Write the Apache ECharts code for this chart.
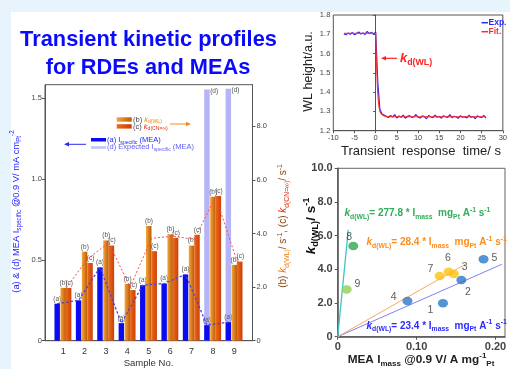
<!DOCTYPE html>
<html>
<head>
<meta charset="utf-8">
<script src="https://cdn.jsdelivr.net/npm/echarts@6/dist/echarts.min.js"></script>
<style>
  html, body { margin: 0; padding: 0; background: #e8f4fc; }
  #chart { width: 510px; height: 369px; }
</style>
</head>
<body>
<div id="chart"></div>
<script>
// ---------- bar chart: samples 1-9 ----------
const samples = [1, 2, 3, 4, 5, 6, 7, 8, 9];
// (a) MEA specific activity @0.9 V, mA cm-2 (left axis)
const iSpecific = [0.229, 0.250, 0.454, 0.109, 0.344, 0.354, 0.410, 0.096, 0.115];
// (d) expected specific activity (samples 8 and 9 only)
const iExpected = [null, null, null, null, null, null, null, 1.555, 1.560];
// (b) kd(WL) and (c) kd(CN=inf), s-1 (right axis)
const kdWL = [1.97, 3.32, 3.74, 2.12, 4.28, 3.97, 3.55, 5.37, 2.83];
const kdCN = [1.97, 2.90, 3.55, 1.89, 3.34, 3.84, 3.95, 5.40, 2.95];
// red dashed guide through the k values
const kdTrend = [1.95, 3.05, 3.65, 2.00, 3.82, 3.90, 3.78, 5.38, 2.95];

const leftTicks = [0, 0.5, 1.0, 1.5];
const rightTicks = [0, 2, 4, 6, 8];

// ---------- transient response (WL height vs time) ----------
const tExp = [-7.5,-7,-6.5,-6,-5.5,-5,-4.5,-4,-3.5,-3,-2.5,-2,-1.5,-1,-0.5,0,0.5,1,1.5,2,
  2.5,3,3.5,4,4.5,5,5.5,6,6.5,7,7.5,8,8.5,9,9.5,10,10.5,11,11.5,12,12.5,13,13.5,14,14.5,15,
  15.5,16,16.5,17,17.5,18,18.5,19,19.5,20,20.5,21,21.5,22,22.5,23,23.5,24,24.5,25,25.5,26];
const wlExp = [1.702,1.698,1.706,1.700,1.709,1.697,1.704,1.712,1.701,1.707,1.699,1.715,1.703,1.710,1.700,
  1.712,1.450,1.310,1.286,1.281,
  1.274,1.268,1.279,1.271,1.283,1.266,1.276,1.270,1.281,1.265,
  1.274,1.278,1.269,1.272,1.284,1.270,1.266,1.277,1.273,1.262,
  1.279,1.271,1.268,1.281,1.270,1.274,1.265,1.278,1.272,1.269,
  1.283,1.267,1.275,1.271,1.264,1.278,1.270,1.273,1.266,1.280,
  1.269,1.274,1.262,1.277,1.271,1.268,1.279,1.265];
const tFit = [-7.5, 0, 0.2, 0.4, 0.6, 0.8, 1.0, 1.3, 1.6, 2.0, 3.0, 26];
const wlFit = [1.705, 1.705, 1.55, 1.43, 1.36, 1.32, 1.30, 1.287, 1.280, 1.276, 1.273, 1.272];

// ---------- kd(WL) vs MEA mass activity ----------
const pointNames = ['1', '2', '3', '4', '5', '6', '7', '8', '9'];
const iMass = [0.1334, 0.1567, 0.1473, 0.0884, 0.1848, 0.1406, 0.1292, 0.0197, 0.0114];
const kdPoint = [1.98, 3.37, 3.72, 2.12, 4.60, 3.86, 3.60, 5.39, 2.81];
const pointGroup = ['blue', 'blue', 'yellow', 'blue', 'blue', 'yellow', 'yellow', 'green', 'lightgreen'];
// straight fits through the origin: start and end points
const fitBlue = [[0, 0], [0.208, 4.30]];
const fitOrange = [[0, 0], [0.1617, 4.30]];
const fitTeal = [[0, 0], [0.0134, 6.34]];
const massTicks = [0, 0.1, 0.2];

// ---------- styling ----------
const FONT = '"Liberation Sans", Arial, sans-serif';
const groupColor = { blue: '#2a78c8', yellow: '#ffc20e', green: '#2fa84f', lightgreen: '#92d050' };
const labelShift = [[-12.6, 6.7], [6.6, 11.7], [10.7, -6.7], [-13.7, -4.3], [11, -1.6],
                    [-0.7, -14], [-9.3, -6.7], [-4, -9.3], [10.6, -5]];
const BAR_W = 0.255;

function grad(c0, c1) {
  return { type: 'linear', x: 0, y: 0, x2: 1, y2: 0, colorStops: [{ offset: 0, color: c0 }, { offset: 1, color: c1 }] };
}

// rich text styles with sub/superscripts (zrender uses "fill" for token colour)
function richSet(size, color, weight) {
  const lh = Math.round(size * 1.35);
  const base = { fontSize: size, fontFamily: FONT, fontWeight: weight, fill: color, color: color, lineHeight: lh };
  const small = { fontSize: Math.round(size * 0.68 * 10) / 10, fontFamily: FONT, fontWeight: weight, fill: color, color: color };
  return {
    n: base,
    i: Object.assign({}, base, { fontStyle: 'italic' }),
    sub: Object.assign({}, small, { verticalAlign: 'bottom' }),
    sup: Object.assign({}, small, { verticalAlign: 'top' })
  };
}
function tint(set, key, color, italic) {
  set[key] = Object.assign({}, set.n, { fill: color, color: color, fontStyle: italic ? 'italic' : 'normal' });
  set[key + 's'] = Object.assign({}, set.sub, { fill: color, color: color });
  return set;
}

// grouped bar drawn through the axes of grid 0
function barSeries(name, values, offset, fill, yAxisIndex, label, labelMode, z) {
  return {
    type: 'custom', name: name, xAxisIndex: 0, yAxisIndex: yAxisIndex, z: z,
    encode: { x: 0, y: 1 },
    data: samples.map((s, i) => [s, values[i]]).filter(d => d[1] != null),
    renderItem: function (params, api) {
      const cx = api.value(0) + offset;
      const v = api.value(1);
      const tl = api.coord([cx - BAR_W / 2, v]);
      const br = api.coord([cx + BAR_W / 2, 0]);
      let lx = (tl[0] + br[0]) / 2, ly = tl[1] - 1.5, align = 'center', va = 'bottom';
      if (labelMode === 'right') { lx = br[0] + 1.5; align = 'right'; }
      if (labelMode === 'left') { lx = tl[0] - 0.5; align = 'left'; }
      if (labelMode === 'side') { lx = br[0] + 0.5; ly = tl[1] + 1.5; align = 'left'; va = 'middle'; }
      return {
        type: 'group',
        children: [
          { type: 'rect', shape: { x: tl[0], y: tl[1], width: br[0] - tl[0], height: br[1] - tl[1] },
            style: { fill: fill } },
          { type: 'text', x: lx, y: ly,
            style: { text: label, fill: '#555', font: '6.5px ' + FONT,
                     align: align, textAlign: align, verticalAlign: va, textVerticalAlign: va } }
        ]
      };
    }
  };
}

function gText(x, y, text, rich, opts) {
  opts = opts || {};
  return {
    type: 'text', x: x, y: y, rotation: opts.rotation || 0, z: 100,
    style: {
      text: text, rich: rich,
      align: opts.align || 'center', textAlign: opts.align || 'center',
      verticalAlign: 'middle', textVerticalAlign: 'middle'
    }
  };
}
function plain(x, y, text, color, font, opts) {
  opts = opts || {};
  const a = opts.align || 'center';
  return { type: 'text', x: x, y: y, rotation: opts.rotation || 0, z: 100,
    style: { text: text, fill: color, font: font, align: a, textAlign: a, verticalAlign: 'middle', textVerticalAlign: 'middle' } };
}

function arrow(x0, y, x1, color, width) {
  const dir = x1 > x0 ? 1 : -1;
  return [
    { type: 'line', z: 100, shape: { x1: x0, y1: y, x2: x1 - dir * 4, y2: y }, style: { stroke: color, lineWidth: width } },
    { type: 'polygon', z: 100, shape: { points: [[x1, y], [x1 - dir * 5, y - 2.3], [x1 - dir * 5, y + 2.3]] }, style: { fill: color } }
  ];
}

const legRich = tint(tint(richSet(7.5, '#444', 'normal'), 'o', '#f08a00', true), 'r', '#e02a10', true);
const legBlue = richSet(7.5, '#2222ee', 'normal');
const legLight = richSet(7.5, '#6060f2', 'normal');
const Ryl = richSet(9.3, '#2222ff', 'normal');
const Ryr = tint(tint(richSet(10, '#8a4a10', 'normal'), 'o', '#f07800', true), 'r', '#e02a10', true);
const Rk = richSet(13, '#ff2020', 'bold');
const Rsy = richSet(13.5, '#111', 'bold');
const Rsx = richSet(11.8, '#222', 'bold');
const Rg = richSet(10, '#2fae5a', 'bold');
const Ro = richSet(10, '#ff8c1a', 'bold');
const Rbl = richSet(10, '#2b2bff', 'bold');

function eqText(coef) {
  return '{i|k}{sub|d(WL)}{n|= ' + coef + ' * I}{sub|mass}{n|  mg}{sub|Pt}{n| A}{sup|-1}{n| s}{sup|-1}';
}

const chart = echarts.init(document.getElementById('chart'), null, { renderer: 'canvas' });

const axisLineStyle = { lineStyle: { color: '#555', width: 1 } };
function fmt1(v) { return v === 0 ? '0' : v.toFixed(1); }

const option = {
  animation: false,
  backgroundColor: '#e8f4fc',
  textStyle: { fontFamily: FONT },
  grid: [
    { left: 45, top: 84.7, width: 207.5, height: 256, show: true, borderColor: '#555', borderWidth: 1, backgroundColor: 'transparent' },
    { left: 333.3, top: 15, width: 175, height: 115.7, show: true, borderColor: '#555', borderWidth: 1 },
    { left: 337.7, top: 168.3, width: 167.3, height: 168.4, show: true, borderColor: '#666', borderWidth: 1 }
  ],
  xAxis: [
    { gridIndex: 0, type: 'value', min: 0.15, max: 9.85, axisLine: axisLineStyle, axisTick: { show: false },
      splitLine: { show: false },
      axisLabel: { customValues: samples, fontSize: 9, color: '#333', margin: 6,
                   formatter: v => (Number.isInteger(v) && v >= 1 && v <= 9) ? String(v) : '' } },
    { gridIndex: 1, type: 'value', min: -10, max: 30, interval: 5, axisLine: axisLineStyle,
      axisTick: { length: 2.5, lineStyle: { color: '#555' } }, splitLine: { show: false },
      axisLabel: { fontSize: 7.5, color: '#444', margin: 3 } },
    { gridIndex: 2, type: 'value', min: 0, max: 0.212,
      axisLine: { lineStyle: { color: '#555', width: 1.5 } },
      axisTick: { customValues: massTicks, length: 3, lineStyle: { color: '#555' } }, splitLine: { show: false },
      axisLabel: { customValues: massTicks, fontSize: 11, fontWeight: 'bold', color: '#444', margin: 5,
                   formatter: v => v === 0 ? '0' : (Math.abs(v * 10 - Math.round(v * 10)) < 1e-6 ? v.toFixed(2) : '') } }
  ],
  yAxis: [
    { gridIndex: 0, type: 'value', position: 'left', min: 0, max: 1.585, axisLine: { show: true, lineStyle: { color: '#555' } },
      axisTick: { show: true, customValues: leftTicks, length: 3, lineStyle: { color: '#555' } }, splitLine: { show: false },
      axisLabel: { customValues: leftTicks, fontSize: 7.5, color: '#444', margin: 3,
                   formatter: v => leftTicks.indexOf(v) >= 0 ? fmt1(v) : '' } },
    { gridIndex: 0, type: 'value', position: 'right', min: 0, max: 9.55, axisLine: { show: true, lineStyle: { color: '#555' } },
      axisTick: { show: true, customValues: rightTicks, length: 3, lineStyle: { color: '#555' } }, splitLine: { show: false },
      axisLabel: { customValues: rightTicks, fontSize: 7.5, color: '#444', margin: 4,
                   formatter: v => rightTicks.indexOf(v) >= 0 ? fmt1(v) : '' } },
    { gridIndex: 1, type: 'value', min: 1.2, max: 1.8, interval: 0.1, axisLine: axisLineStyle,
      axisTick: { length: 2.5, lineStyle: { color: '#555' } }, splitLine: { show: false },
      axisLabel: { fontSize: 7.5, color: '#444', margin: 3, formatter: v => v.toFixed(1) } },
    { gridIndex: 2, type: 'value', min: 0, max: 10, interval: 2,
      axisLine: { show: true, lineStyle: { color: '#555', width: 1.5 } },
      axisTick: { length: 3, lineStyle: { color: '#555' } }, splitLine: { show: false },
      axisLabel: { fontSize: 11, fontWeight: 'bold', color: '#444', margin: 5, formatter: fmt1 } }
  ],
  series: [
    barSeries('(d) Expected Ispecific (MEA)', iExpected, -0.28, '#b4b4f7', 0, '(d)', 'side', 2),
    barSeries('(a) Ispecific (MEA)', iSpecific, -0.28, '#0b0bf0', 0, '(a)', 'center', 3),
    barSeries('(b) kd(WL)', kdWL, 0.0, grad('#f7a53a', '#b85a08'), 1, '(b)', 'right', 3),
    barSeries('(c) kd(CN=inf)', kdCN, 0.255, grad('#f06a18', '#c84008'), 1, '(c)', 'left', 3),
    { type: 'line', name: 'k trend', xAxisIndex: 0, yAxisIndex: 1, z: 5, symbol: 'none',
      data: samples.map((s, i) => [s + 0.13, kdTrend[i]]),
      lineStyle: { color: '#ff4a4a', width: 1, type: [2, 2] } },
    { type: 'line', name: 'I trend', xAxisIndex: 0, yAxisIndex: 0, z: 5, symbol: 'none',
      data: samples.map((s, i) => [s - 0.28, iSpecific[i]]),
      lineStyle: { color: '#4646d8', width: 1.3, type: [2.5, 2] } },
    { type: 'line', name: 'Exp.', xAxisIndex: 1, yAxisIndex: 2, symbol: 'none', z: 3,
      data: tExp.map((t, i) => [t, wlExp[i]]),
      lineStyle: { color: '#2a2aff', width: 1.2 } },
    { type: 'line', name: 'Fit.', xAxisIndex: 1, yAxisIndex: 2, symbol: 'none', z: 4,
      data: tFit.map((t, i) => [t, wlFit[i]]),
      lineStyle: { color: '#ff2a2a', width: 1.1 } },
    { type: 'line', name: 'fit 23.4', xAxisIndex: 2, yAxisIndex: 3, symbol: 'none', z: 2,
      data: fitBlue, lineStyle: { color: '#8080f4', width: 1 } },
    { type: 'line', name: 'fit 28.4', xAxisIndex: 2, yAxisIndex: 3, symbol: 'none', z: 2,
      data: fitOrange, lineStyle: { color: '#f6a862', width: 1 } },
    { type: 'line', name: 'fit 277.8', xAxisIndex: 2, yAxisIndex: 3, symbol: 'none', z: 2,
      data: fitTeal, lineStyle: { color: '#3cc6c6', width: 1.3 } },
    { type: 'scatter', name: 'samples', xAxisIndex: 2, yAxisIndex: 3, z: 4, symbol: 'circle', symbolSize: [10, 8.5],
      data: iMass.map((x, i) => ({
        value: [x, kdPoint[i]],
        itemStyle: { color: groupColor[pointGroup[i]] },
        label: { offset: labelShift[i] }
      })),
      label: { show: true, position: 'inside', formatter: p => pointNames[p.dataIndex],
               color: '#333', fontSize: 10.5, fontFamily: FONT } }
  ],
  graphic: [
    { type: 'rect', z: -10, shape: { x: 11, y: 12, width: 499, height: 357 }, style: { fill: '#ffffff' } },
    plain(148.5, 39.5, 'Transient kinetic profiles', '#0a0aff', 'bold 21.8px ' + FONT),
    plain(148, 68, 'for RDEs and MEAs', '#0a0aff', 'bold 21.8px ' + FONT),

    // legend of the bar chart
    { type: 'rect', z: 100, shape: { x: 116.7, y: 117.3, width: 15, height: 4.4 }, style: { fill: grad('#f7a53a', '#b85a08') } },
    { type: 'rect', z: 100, shape: { x: 116.7, y: 124.2, width: 15, height: 4.4 }, style: { fill: grad('#f06a18', '#c84008') } },
    gText(133, 119.5, '{n|(b) }{o|k}{os|d(WL)}', legRich, { align: 'left' }),
    gText(133, 126.5, '{n|(c) }{r|k}{rs|d(CN=\u221e)}', legRich, { align: 'left' }),
    ...arrow(170, 124, 191, '#f08a20', 1),
    { type: 'rect', z: 100, shape: { x: 91, y: 138, width: 15, height: 3.5 }, style: { fill: '#0b0bf0' } },
    { type: 'rect', z: 100, shape: { x: 91, y: 146.2, width: 15, height: 2.6 }, style: { fill: '#c4c4fa' } },
    gText(107, 139.6, '{n|(a) I}{sub|specific}{n| (MEA)}', legBlue, { align: 'left' }),
    gText(107, 147.4, '{n|(d) Expected I}{sub|specific}{n| (MEA)}', legLight, { align: 'left' }),
    ...arrow(86, 144.3, 64, '#2a2af0', 1),

    // axis titles of the bar chart
    gText(16, 211.5, '{n|(a) & (d) MEA I}{sub|specific}{n| @0.9 V/ mA cm}{sub|Pt}{sup|-2}', Ryl, { rotation: Math.PI / 2 }),
    gText(283.5, 226, '{n|(b) }{o|k}{os|d(WL)}{n|/ s}{sup|-1}{n|, (c) }{r|k}{rs|d(CN=\u221e)}{n|/ s}{sup|-1}', Ryr, { rotation: Math.PI / 2 }),
    plain(148.5, 363, 'Sample No.', '#333', '9.5px ' + FONT),

    // transient response panel
    plain(309, 71.5, 'WL height/a.u.', '#222', '12.5px ' + FONT, { rotation: Math.PI / 2 }),
    plain(421, 151.7, 'Transient  response  time/ s', '#222', '13px ' + FONT),
    { type: 'line', z: 100, shape: { x1: 481.5, y1: 22.7, x2: 488, y2: 22.7 }, style: { stroke: '#2a2aff', lineWidth: 1.5 } },
    plain(488.5, 22.7, 'Exp.', '#2a2aff', 'bold 8.5px ' + FONT, { align: 'left' }),
    { type: 'line', z: 100, shape: { x1: 481.5, y1: 31.7, x2: 488, y2: 31.7 }, style: { stroke: '#ff2a2a', lineWidth: 1.5 } },
    plain(488.5, 31.7, 'Fit.', '#ff2a2a', 'bold 8.5px ' + FONT, { align: 'left' }),
    ...arrow(397, 58.3, 381, '#ff2020', 1.2),
    gText(400, 58.5, '{i|k}{sub|d(WL)}', Rk, { align: 'left' }),

    // kd vs mass activity panel
    gText(311, 226, '{i|k}{sub|d(WL)}{n|/ s}{sup|-1}', Rsy, { rotation: Math.PI / 2 }),
    gText(421, 359.5, '{n|MEA I}{sub|mass}{n| @0.9 V/ A mg}{sup|-1}{sub|Pt}', Rsx),
    gText(344.5, 213.3, eqText('277.8'), Rg, { align: 'left' }),
    gText(366.5, 242.7, eqText('28.4'), Ro, { align: 'left' }),
    gText(366.5, 326, eqText('23.4'), Rbl, { align: 'left' })
  ]
};

chart.setOption(option);
</script>
</body>
</html>
